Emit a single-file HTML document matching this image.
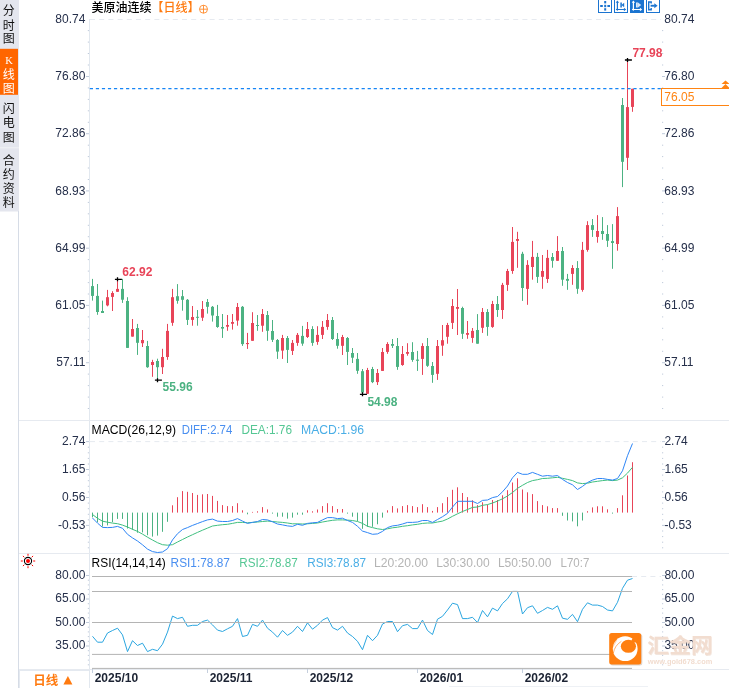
<!DOCTYPE html>
<html lang="zh-CN"><head><meta charset="utf-8"><title>美原油连续 日线</title>
<style>
html,body{margin:0;padding:0;background:#fff;}
body{width:729px;height:688px;overflow:hidden;position:relative;font-family:"Liberation Sans","Noto Sans CJK SC",sans-serif;}
svg{position:absolute;left:0;top:0;display:block}
text{font-family:"Liberation Sans","Noto Sans CJK SC",sans-serif;font-size:12px}
.ax{fill:#252f4a}
.b{font-weight:bold}
.side{font-family:"Liberation Serif","Noto Sans CJK SC",sans-serif;font-weight:400;font-size:12px;fill:#111}
</style></head><body>
<svg width="729" height="688" viewBox="0 0 729 688">
<rect x="0" y="0" width="19" height="211.5" fill="#e4e6ee"/>
<rect x="0" y="48.8" width="18" height="46" fill="#ff6600"/>
<rect x="0" y="147.3" width="19" height="1" fill="#f1f2f6"/>
<text class="side" x="8.7" y="15.2" text-anchor="middle">分</text>
<text class="side" x="8.7" y="29.6" text-anchor="middle">时</text>
<text class="side" x="8.7" y="43.2" text-anchor="middle">图</text>
<text class="side" x="8.7" y="79.0" text-anchor="middle" style="fill:#fff">线</text>
<text class="side" x="8.7" y="92.8" text-anchor="middle" style="fill:#fff">图</text>
<text class="side" x="9" y="63.9" text-anchor="middle" style="fill:#fff;font-size:10.5px">K</text>
<text class="side" x="8.7" y="113.4" text-anchor="middle">闪</text>
<text class="side" x="8.7" y="127.4" text-anchor="middle">电</text>
<text class="side" x="8.7" y="141.7" text-anchor="middle">图</text>
<text class="side" x="8.7" y="165.4" text-anchor="middle">合</text>
<text class="side" x="8.7" y="179.4" text-anchor="middle">约</text>
<text class="side" x="8.7" y="193.4" text-anchor="middle">资</text>
<text class="side" x="8.7" y="207.4" text-anchor="middle">料</text>
<rect x="18" y="211" width="1" height="477" fill="#d6dce6"/>
<rect x="89" y="19" width="1" height="669" fill="#e2e8ef"/>
<rect x="19" y="420" width="710" height="1" fill="#e6eaf0"/>
<rect x="19" y="553" width="710" height="1" fill="#e6eaf0"/>
<rect x="19" y="669" width="710" height="1" fill="#e6eaf0"/>
<rect x="19" y="670" width="70" height="1" fill="#e4e9f0"/><rect x="19" y="670" width="1" height="18" fill="#e4e9f0"/>
<rect x="449" y="686" width="199" height="1" fill="#eef1f5"/>
<path d="M90 19.5H661" stroke="#e6eaf0" stroke-width="1" stroke-dasharray="5 4.2" fill="none"/>
<path d="M90 441.6H661" stroke="#e6eaf0" stroke-width="1" stroke-dasharray="5 4.2" fill="none"/>
<path d="M632 576.5H661" stroke="#e6eaf0" stroke-width="1" stroke-dasharray="5 4.2" fill="none"/>
<rect x="87.8" y="30.1" width="1.2" height="1" fill="#c0cbdb"/>
<rect x="662" y="30.1" width="1.2" height="1" fill="#c0cbdb"/>
<rect x="87.8" y="41.6" width="1.2" height="1" fill="#c0cbdb"/>
<rect x="662" y="41.6" width="1.2" height="1" fill="#c0cbdb"/>
<rect x="87.8" y="53.0" width="1.2" height="1" fill="#c0cbdb"/>
<rect x="662" y="53.0" width="1.2" height="1" fill="#c0cbdb"/>
<rect x="87.8" y="64.5" width="1.2" height="1" fill="#c0cbdb"/>
<rect x="662" y="64.5" width="1.2" height="1" fill="#c0cbdb"/>
<rect x="86" y="76.0" width="3" height="1" fill="#c0cbdb"/>
<rect x="662" y="76.0" width="3" height="1" fill="#c0cbdb"/>
<rect x="87.8" y="87.4" width="1.2" height="1" fill="#c0cbdb"/>
<rect x="662" y="87.4" width="1.2" height="1" fill="#c0cbdb"/>
<rect x="87.8" y="98.9" width="1.2" height="1" fill="#c0cbdb"/>
<rect x="662" y="98.9" width="1.2" height="1" fill="#c0cbdb"/>
<rect x="87.8" y="110.3" width="1.2" height="1" fill="#c0cbdb"/>
<rect x="662" y="110.3" width="1.2" height="1" fill="#c0cbdb"/>
<rect x="87.8" y="121.8" width="1.2" height="1" fill="#c0cbdb"/>
<rect x="662" y="121.8" width="1.2" height="1" fill="#c0cbdb"/>
<rect x="86" y="133.2" width="3" height="1" fill="#c0cbdb"/>
<rect x="662" y="133.2" width="3" height="1" fill="#c0cbdb"/>
<rect x="87.8" y="144.7" width="1.2" height="1" fill="#c0cbdb"/>
<rect x="662" y="144.7" width="1.2" height="1" fill="#c0cbdb"/>
<rect x="87.8" y="156.1" width="1.2" height="1" fill="#c0cbdb"/>
<rect x="662" y="156.1" width="1.2" height="1" fill="#c0cbdb"/>
<rect x="87.8" y="167.5" width="1.2" height="1" fill="#c0cbdb"/>
<rect x="662" y="167.5" width="1.2" height="1" fill="#c0cbdb"/>
<rect x="87.8" y="179.0" width="1.2" height="1" fill="#c0cbdb"/>
<rect x="662" y="179.0" width="1.2" height="1" fill="#c0cbdb"/>
<rect x="86" y="190.4" width="3" height="1" fill="#c0cbdb"/>
<rect x="662" y="190.4" width="3" height="1" fill="#c0cbdb"/>
<rect x="87.8" y="201.9" width="1.2" height="1" fill="#c0cbdb"/>
<rect x="662" y="201.9" width="1.2" height="1" fill="#c0cbdb"/>
<rect x="87.8" y="213.3" width="1.2" height="1" fill="#c0cbdb"/>
<rect x="662" y="213.3" width="1.2" height="1" fill="#c0cbdb"/>
<rect x="87.8" y="224.8" width="1.2" height="1" fill="#c0cbdb"/>
<rect x="662" y="224.8" width="1.2" height="1" fill="#c0cbdb"/>
<rect x="87.8" y="236.2" width="1.2" height="1" fill="#c0cbdb"/>
<rect x="662" y="236.2" width="1.2" height="1" fill="#c0cbdb"/>
<rect x="86" y="247.7" width="3" height="1" fill="#c0cbdb"/>
<rect x="662" y="247.7" width="3" height="1" fill="#c0cbdb"/>
<rect x="87.8" y="259.1" width="1.2" height="1" fill="#c0cbdb"/>
<rect x="662" y="259.1" width="1.2" height="1" fill="#c0cbdb"/>
<rect x="87.8" y="270.6" width="1.2" height="1" fill="#c0cbdb"/>
<rect x="662" y="270.6" width="1.2" height="1" fill="#c0cbdb"/>
<rect x="87.8" y="282.1" width="1.2" height="1" fill="#c0cbdb"/>
<rect x="662" y="282.1" width="1.2" height="1" fill="#c0cbdb"/>
<rect x="87.8" y="293.5" width="1.2" height="1" fill="#c0cbdb"/>
<rect x="662" y="293.5" width="1.2" height="1" fill="#c0cbdb"/>
<rect x="86" y="304.9" width="3" height="1" fill="#c0cbdb"/>
<rect x="662" y="304.9" width="3" height="1" fill="#c0cbdb"/>
<rect x="87.8" y="316.4" width="1.2" height="1" fill="#c0cbdb"/>
<rect x="662" y="316.4" width="1.2" height="1" fill="#c0cbdb"/>
<rect x="87.8" y="327.8" width="1.2" height="1" fill="#c0cbdb"/>
<rect x="662" y="327.8" width="1.2" height="1" fill="#c0cbdb"/>
<rect x="87.8" y="339.3" width="1.2" height="1" fill="#c0cbdb"/>
<rect x="662" y="339.3" width="1.2" height="1" fill="#c0cbdb"/>
<rect x="87.8" y="350.8" width="1.2" height="1" fill="#c0cbdb"/>
<rect x="662" y="350.8" width="1.2" height="1" fill="#c0cbdb"/>
<rect x="86" y="362.2" width="3" height="1" fill="#c0cbdb"/>
<rect x="662" y="362.2" width="3" height="1" fill="#c0cbdb"/>
<rect x="87.8" y="373.6" width="1.2" height="1" fill="#c0cbdb"/>
<rect x="662" y="373.6" width="1.2" height="1" fill="#c0cbdb"/>
<rect x="87.8" y="385.1" width="1.2" height="1" fill="#c0cbdb"/>
<rect x="662" y="385.1" width="1.2" height="1" fill="#c0cbdb"/>
<rect x="87.8" y="396.6" width="1.2" height="1" fill="#c0cbdb"/>
<rect x="662" y="396.6" width="1.2" height="1" fill="#c0cbdb"/>
<rect x="87.8" y="408.0" width="1.2" height="1" fill="#c0cbdb"/>
<rect x="662" y="408.0" width="1.2" height="1" fill="#c0cbdb"/>
<text class="ax" x="85.4" y="22.9" text-anchor="end">80.74</text>
<text class="ax" x="664.3" y="22.9">80.74</text>
<text class="ax" x="85.4" y="80.2" text-anchor="end">76.80</text>
<text class="ax" x="664.3" y="80.2">76.80</text>
<text class="ax" x="85.4" y="137.4" text-anchor="end">72.86</text>
<text class="ax" x="664.3" y="137.4">72.86</text>
<text class="ax" x="85.4" y="194.6" text-anchor="end">68.93</text>
<text class="ax" x="664.3" y="194.6">68.93</text>
<text class="ax" x="85.4" y="251.9" text-anchor="end">64.99</text>
<text class="ax" x="664.3" y="251.9">64.99</text>
<text class="ax" x="85.4" y="309.1" text-anchor="end">61.05</text>
<text class="ax" x="664.3" y="309.1">61.05</text>
<text class="ax" x="85.4" y="366.4" text-anchor="end">57.11</text>
<text class="ax" x="664.3" y="366.4">57.11</text>
<rect x="86" y="441.1" width="3" height="1" fill="#c0cbdb"/>
<rect x="662" y="441.1" width="3" height="1" fill="#c0cbdb"/>
<rect x="87.8" y="446.7" width="1.2" height="1" fill="#c0cbdb"/>
<rect x="662" y="446.7" width="1.2" height="1" fill="#c0cbdb"/>
<rect x="87.8" y="452.3" width="1.2" height="1" fill="#c0cbdb"/>
<rect x="662" y="452.3" width="1.2" height="1" fill="#c0cbdb"/>
<rect x="87.8" y="457.9" width="1.2" height="1" fill="#c0cbdb"/>
<rect x="662" y="457.9" width="1.2" height="1" fill="#c0cbdb"/>
<rect x="87.8" y="463.5" width="1.2" height="1" fill="#c0cbdb"/>
<rect x="662" y="463.5" width="1.2" height="1" fill="#c0cbdb"/>
<rect x="86" y="469.0" width="3" height="1" fill="#c0cbdb"/>
<rect x="662" y="469.0" width="3" height="1" fill="#c0cbdb"/>
<rect x="87.8" y="474.6" width="1.2" height="1" fill="#c0cbdb"/>
<rect x="662" y="474.6" width="1.2" height="1" fill="#c0cbdb"/>
<rect x="87.8" y="480.2" width="1.2" height="1" fill="#c0cbdb"/>
<rect x="662" y="480.2" width="1.2" height="1" fill="#c0cbdb"/>
<rect x="87.8" y="485.8" width="1.2" height="1" fill="#c0cbdb"/>
<rect x="662" y="485.8" width="1.2" height="1" fill="#c0cbdb"/>
<rect x="87.8" y="491.4" width="1.2" height="1" fill="#c0cbdb"/>
<rect x="662" y="491.4" width="1.2" height="1" fill="#c0cbdb"/>
<rect x="86" y="497.0" width="3" height="1" fill="#c0cbdb"/>
<rect x="662" y="497.0" width="3" height="1" fill="#c0cbdb"/>
<rect x="87.8" y="502.6" width="1.2" height="1" fill="#c0cbdb"/>
<rect x="662" y="502.6" width="1.2" height="1" fill="#c0cbdb"/>
<rect x="87.8" y="508.2" width="1.2" height="1" fill="#c0cbdb"/>
<rect x="662" y="508.2" width="1.2" height="1" fill="#c0cbdb"/>
<rect x="87.8" y="513.8" width="1.2" height="1" fill="#c0cbdb"/>
<rect x="662" y="513.8" width="1.2" height="1" fill="#c0cbdb"/>
<rect x="87.8" y="519.3" width="1.2" height="1" fill="#c0cbdb"/>
<rect x="662" y="519.3" width="1.2" height="1" fill="#c0cbdb"/>
<rect x="86" y="524.9" width="3" height="1" fill="#c0cbdb"/>
<rect x="662" y="524.9" width="3" height="1" fill="#c0cbdb"/>
<rect x="87.8" y="530.5" width="1.2" height="1" fill="#c0cbdb"/>
<rect x="662" y="530.5" width="1.2" height="1" fill="#c0cbdb"/>
<rect x="87.8" y="536.1" width="1.2" height="1" fill="#c0cbdb"/>
<rect x="662" y="536.1" width="1.2" height="1" fill="#c0cbdb"/>
<rect x="87.8" y="541.7" width="1.2" height="1" fill="#c0cbdb"/>
<rect x="662" y="541.7" width="1.2" height="1" fill="#c0cbdb"/>
<rect x="87.8" y="547.3" width="1.2" height="1" fill="#c0cbdb"/>
<rect x="662" y="547.3" width="1.2" height="1" fill="#c0cbdb"/>
<text class="ax" x="85.4" y="445.1" text-anchor="end">2.74</text>
<text class="ax" x="664.4" y="445.1">2.74</text>
<text class="ax" x="85.4" y="473.0" text-anchor="end">1.65</text>
<text class="ax" x="664.4" y="473.0">1.65</text>
<text class="ax" x="85.4" y="501.0" text-anchor="end">0.56</text>
<text class="ax" x="664.4" y="501.0">0.56</text>
<text class="ax" x="85.4" y="528.9" text-anchor="end">-0.53</text>
<text class="ax" x="664.4" y="528.9">-0.53</text>
<rect x="86" y="575.0" width="3" height="1" fill="#c0cbdb"/>
<rect x="662" y="575.0" width="3" height="1" fill="#c0cbdb"/>
<rect x="87.8" y="579.7" width="1.2" height="1" fill="#c0cbdb"/>
<rect x="662" y="579.7" width="1.2" height="1" fill="#c0cbdb"/>
<rect x="87.8" y="584.4" width="1.2" height="1" fill="#c0cbdb"/>
<rect x="662" y="584.4" width="1.2" height="1" fill="#c0cbdb"/>
<rect x="87.8" y="589.1" width="1.2" height="1" fill="#c0cbdb"/>
<rect x="662" y="589.1" width="1.2" height="1" fill="#c0cbdb"/>
<rect x="87.8" y="593.8" width="1.2" height="1" fill="#c0cbdb"/>
<rect x="662" y="593.8" width="1.2" height="1" fill="#c0cbdb"/>
<rect x="86" y="598.5" width="3" height="1" fill="#c0cbdb"/>
<rect x="662" y="598.5" width="3" height="1" fill="#c0cbdb"/>
<rect x="87.8" y="603.2" width="1.2" height="1" fill="#c0cbdb"/>
<rect x="662" y="603.2" width="1.2" height="1" fill="#c0cbdb"/>
<rect x="87.8" y="607.9" width="1.2" height="1" fill="#c0cbdb"/>
<rect x="662" y="607.9" width="1.2" height="1" fill="#c0cbdb"/>
<rect x="87.8" y="612.6" width="1.2" height="1" fill="#c0cbdb"/>
<rect x="662" y="612.6" width="1.2" height="1" fill="#c0cbdb"/>
<rect x="87.8" y="617.3" width="1.2" height="1" fill="#c0cbdb"/>
<rect x="662" y="617.3" width="1.2" height="1" fill="#c0cbdb"/>
<rect x="86" y="622.0" width="3" height="1" fill="#c0cbdb"/>
<rect x="662" y="622.0" width="3" height="1" fill="#c0cbdb"/>
<rect x="87.8" y="626.7" width="1.2" height="1" fill="#c0cbdb"/>
<rect x="662" y="626.7" width="1.2" height="1" fill="#c0cbdb"/>
<rect x="87.8" y="631.4" width="1.2" height="1" fill="#c0cbdb"/>
<rect x="662" y="631.4" width="1.2" height="1" fill="#c0cbdb"/>
<rect x="87.8" y="636.1" width="1.2" height="1" fill="#c0cbdb"/>
<rect x="662" y="636.1" width="1.2" height="1" fill="#c0cbdb"/>
<rect x="87.8" y="640.8" width="1.2" height="1" fill="#c0cbdb"/>
<rect x="662" y="640.8" width="1.2" height="1" fill="#c0cbdb"/>
<rect x="86" y="645.5" width="3" height="1" fill="#c0cbdb"/>
<rect x="662" y="645.5" width="3" height="1" fill="#c0cbdb"/>
<rect x="87.8" y="650.2" width="1.2" height="1" fill="#c0cbdb"/>
<rect x="662" y="650.2" width="1.2" height="1" fill="#c0cbdb"/>
<rect x="87.8" y="654.9" width="1.2" height="1" fill="#c0cbdb"/>
<rect x="662" y="654.9" width="1.2" height="1" fill="#c0cbdb"/>
<rect x="87.8" y="659.6" width="1.2" height="1" fill="#c0cbdb"/>
<rect x="662" y="659.6" width="1.2" height="1" fill="#c0cbdb"/>
<rect x="87.8" y="664.3" width="1.2" height="1" fill="#c0cbdb"/>
<rect x="662" y="664.3" width="1.2" height="1" fill="#c0cbdb"/>
<text class="ax" x="85.4" y="578.5" text-anchor="end">80.00</text>
<text class="ax" x="664.4" y="578.5">80.00</text>
<text class="ax" x="85.4" y="602.0" text-anchor="end">65.00</text>
<text class="ax" x="664.4" y="602.0">65.00</text>
<text class="ax" x="85.4" y="625.5" text-anchor="end">50.00</text>
<text class="ax" x="664.4" y="625.5">50.00</text>
<text class="ax" x="85.4" y="649.0" text-anchor="end">35.00</text>
<text class="ax" x="664.4" y="649.0">35.00</text>
<rect x="92.0" y="278.9" width="1" height="21.7" fill="#4cb282"/>
<rect x="91.0" y="286.1" width="3" height="9.8" fill="#4cb282"/>
<rect x="97.0" y="284.0" width="1" height="30.8" fill="#4cb282"/>
<rect x="96.0" y="295.9" width="3" height="16.1" fill="#4cb282"/>
<rect x="102.0" y="300.6" width="1" height="12.4" fill="#4cb282"/>
<rect x="101.0" y="311.0" width="3" height="2.0" fill="#4cb282"/>
<rect x="107.0" y="289.9" width="1" height="16.4" fill="#e84458"/>
<rect x="106.0" y="297.2" width="3" height="8.2" fill="#e84458"/>
<rect x="112.0" y="291.2" width="1" height="19.8" fill="#e84458"/>
<rect x="111.0" y="293.0" width="3" height="3.9" fill="#e84458"/>
<rect x="117.0" y="278.9" width="1" height="12.9" fill="#e84458"/>
<rect x="116.0" y="288.9" width="3" height="2.9" fill="#e84458"/>
<rect x="122.0" y="278.9" width="1" height="24.0" fill="#4cb282"/>
<rect x="121.0" y="288.9" width="3" height="10.8" fill="#4cb282"/>
<rect x="127.0" y="297.2" width="1" height="50.7" fill="#4cb282"/>
<rect x="126.0" y="301.0" width="3" height="46.9" fill="#4cb282"/>
<rect x="132.0" y="319.0" width="1" height="17.6" fill="#e84458"/>
<rect x="131.0" y="329.0" width="3" height="7.6" fill="#e84458"/>
<rect x="137.0" y="323.9" width="1" height="31.0" fill="#4cb282"/>
<rect x="136.0" y="328.0" width="3" height="14.8" fill="#4cb282"/>
<rect x="142.0" y="330.0" width="1" height="17.0" fill="#e84458"/>
<rect x="141.0" y="340.0" width="3" height="3.2" fill="#e84458"/>
<rect x="147.0" y="340.9" width="1" height="26.9" fill="#4cb282"/>
<rect x="146.0" y="346.0" width="3" height="21.2" fill="#4cb282"/>
<rect x="152.0" y="359.8" width="1" height="17.0" fill="#e84458"/>
<rect x="151.0" y="362.0" width="3" height="3.0" fill="#e84458"/>
<rect x="157.0" y="358.7" width="1" height="21.3" fill="#4cb282"/>
<rect x="156.0" y="361.0" width="3" height="6.2" fill="#4cb282"/>
<rect x="162.0" y="348.8" width="1" height="25.2" fill="#e84458"/>
<rect x="161.0" y="357.0" width="3" height="10.2" fill="#e84458"/>
<rect x="167.0" y="323.9" width="1" height="35.9" fill="#e84458"/>
<rect x="166.0" y="330.9" width="3" height="26.1" fill="#e84458"/>
<rect x="172.0" y="288.9" width="1" height="36.9" fill="#e84458"/>
<rect x="171.0" y="297.2" width="3" height="25.6" fill="#e84458"/>
<rect x="177.0" y="284.1" width="1" height="19.6" fill="#4cb282"/>
<rect x="176.0" y="296.2" width="3" height="4.6" fill="#4cb282"/>
<rect x="182.0" y="290.0" width="1" height="20.7" fill="#4cb282"/>
<rect x="181.0" y="296.2" width="3" height="3.6" fill="#4cb282"/>
<rect x="187.0" y="299.0" width="1" height="26.0" fill="#4cb282"/>
<rect x="186.0" y="299.8" width="3" height="20.1" fill="#4cb282"/>
<rect x="192.0" y="306.0" width="1" height="19.7" fill="#e84458"/>
<rect x="191.0" y="317.0" width="3" height="2.9" fill="#e84458"/>
<rect x="197.0" y="310.0" width="1" height="15.7" fill="#4cb282"/>
<rect x="196.0" y="316.8" width="3" height="1.0" fill="#4cb282"/>
<rect x="202.0" y="301.0" width="1" height="19.9" fill="#e84458"/>
<rect x="201.0" y="309.0" width="3" height="8.7" fill="#e84458"/>
<rect x="207.0" y="299.0" width="1" height="14.6" fill="#4cb282"/>
<rect x="206.0" y="302.0" width="3" height="4.8" fill="#4cb282"/>
<rect x="212.0" y="306.0" width="1" height="15.6" fill="#4cb282"/>
<rect x="211.0" y="306.8" width="3" height="8.7" fill="#4cb282"/>
<rect x="217.0" y="304.9" width="1" height="22.9" fill="#4cb282"/>
<rect x="216.0" y="316.0" width="3" height="11.0" fill="#4cb282"/>
<rect x="222.0" y="314.0" width="1" height="23.9" fill="#4cb282"/>
<rect x="221.0" y="327.0" width="3" height="1.6" fill="#4cb282"/>
<rect x="227.0" y="315.0" width="1" height="15.8" fill="#e84458"/>
<rect x="226.0" y="325.0" width="3" height="1.7" fill="#e84458"/>
<rect x="232.0" y="314.0" width="1" height="15.6" fill="#e84458"/>
<rect x="231.0" y="322.0" width="3" height="1.8" fill="#e84458"/>
<rect x="237.0" y="303.0" width="1" height="22.7" fill="#e84458"/>
<rect x="236.0" y="307.0" width="3" height="13.6" fill="#e84458"/>
<rect x="242.0" y="306.0" width="1" height="39.9" fill="#4cb282"/>
<rect x="241.0" y="306.8" width="3" height="37.3" fill="#4cb282"/>
<rect x="247.0" y="332.9" width="1" height="16.0" fill="#e84458"/>
<rect x="246.0" y="343.0" width="3" height="1.1" fill="#e84458"/>
<rect x="252.0" y="312.2" width="1" height="28.6" fill="#e84458"/>
<rect x="251.0" y="323.0" width="3" height="17.8" fill="#e84458"/>
<rect x="257.0" y="315.0" width="1" height="15.8" fill="#4cb282"/>
<rect x="256.0" y="325.0" width="3" height="1.0" fill="#4cb282"/>
<rect x="262.0" y="309.0" width="1" height="22.8" fill="#e84458"/>
<rect x="261.0" y="314.0" width="3" height="11.7" fill="#e84458"/>
<rect x="267.0" y="311.0" width="1" height="29.8" fill="#4cb282"/>
<rect x="266.0" y="315.0" width="3" height="15.8" fill="#4cb282"/>
<rect x="272.0" y="320.0" width="1" height="22.0" fill="#4cb282"/>
<rect x="271.0" y="331.0" width="3" height="8.8" fill="#4cb282"/>
<rect x="277.0" y="339.0" width="1" height="19.9" fill="#4cb282"/>
<rect x="276.0" y="340.0" width="3" height="11.6" fill="#4cb282"/>
<rect x="282.0" y="334.9" width="1" height="24.0" fill="#e84458"/>
<rect x="281.0" y="338.0" width="3" height="12.6" fill="#e84458"/>
<rect x="287.0" y="336.0" width="1" height="27.0" fill="#4cb282"/>
<rect x="286.0" y="338.0" width="3" height="11.9" fill="#4cb282"/>
<rect x="292.0" y="340.0" width="1" height="15.0" fill="#e84458"/>
<rect x="291.0" y="342.9" width="3" height="8.0" fill="#e84458"/>
<rect x="297.0" y="333.0" width="1" height="12.8" fill="#e84458"/>
<rect x="296.0" y="334.9" width="3" height="8.0" fill="#e84458"/>
<rect x="302.0" y="325.9" width="1" height="19.9" fill="#4cb282"/>
<rect x="301.0" y="335.9" width="3" height="7.7" fill="#4cb282"/>
<rect x="307.0" y="322.0" width="1" height="16.0" fill="#e84458"/>
<rect x="306.0" y="329.0" width="3" height="8.0" fill="#e84458"/>
<rect x="312.0" y="326.2" width="1" height="19.6" fill="#4cb282"/>
<rect x="311.0" y="329.0" width="3" height="13.9" fill="#4cb282"/>
<rect x="317.0" y="326.2" width="1" height="18.6" fill="#e84458"/>
<rect x="316.0" y="334.9" width="3" height="7.0" fill="#e84458"/>
<rect x="322.0" y="321.0" width="1" height="18.0" fill="#e84458"/>
<rect x="321.0" y="326.9" width="3" height="8.0" fill="#e84458"/>
<rect x="327.0" y="314.0" width="1" height="15.8" fill="#e84458"/>
<rect x="326.0" y="320.0" width="3" height="6.9" fill="#e84458"/>
<rect x="332.0" y="317.0" width="1" height="23.0" fill="#4cb282"/>
<rect x="331.0" y="320.0" width="3" height="19.0" fill="#4cb282"/>
<rect x="337.0" y="333.0" width="1" height="15.7" fill="#4cb282"/>
<rect x="336.0" y="339.0" width="3" height="6.8" fill="#4cb282"/>
<rect x="342.0" y="334.9" width="1" height="20.1" fill="#e84458"/>
<rect x="341.0" y="337.0" width="3" height="8.8" fill="#e84458"/>
<rect x="347.0" y="337.0" width="1" height="28.0" fill="#4cb282"/>
<rect x="346.0" y="338.0" width="3" height="13.9" fill="#4cb282"/>
<rect x="352.0" y="348.0" width="1" height="15.0" fill="#4cb282"/>
<rect x="351.0" y="353.0" width="3" height="4.7" fill="#4cb282"/>
<rect x="357.0" y="353.0" width="1" height="20.8" fill="#4cb282"/>
<rect x="356.0" y="358.9" width="3" height="11.9" fill="#4cb282"/>
<rect x="362.0" y="369.0" width="1" height="25.0" fill="#4cb282"/>
<rect x="361.0" y="371.2" width="3" height="21.3" fill="#4cb282"/>
<rect x="367.0" y="367.9" width="1" height="25.9" fill="#e84458"/>
<rect x="366.0" y="370.0" width="3" height="23.8" fill="#e84458"/>
<rect x="372.0" y="366.9" width="1" height="16.2" fill="#4cb282"/>
<rect x="371.0" y="369.0" width="3" height="13.1" fill="#4cb282"/>
<rect x="377.0" y="369.0" width="1" height="16.0" fill="#e84458"/>
<rect x="376.0" y="373.0" width="3" height="9.1" fill="#e84458"/>
<rect x="382.0" y="348.0" width="1" height="22.9" fill="#e84458"/>
<rect x="381.0" y="352.0" width="3" height="18.9" fill="#e84458"/>
<rect x="387.0" y="342.2" width="1" height="11.6" fill="#e84458"/>
<rect x="386.0" y="344.0" width="3" height="7.9" fill="#e84458"/>
<rect x="392.0" y="339.0" width="1" height="9.0" fill="#4cb282"/>
<rect x="391.0" y="344.0" width="3" height="1.8" fill="#4cb282"/>
<rect x="397.0" y="338.0" width="1" height="31.8" fill="#4cb282"/>
<rect x="396.0" y="346.0" width="3" height="20.9" fill="#4cb282"/>
<rect x="402.0" y="346.0" width="1" height="19.8" fill="#e84458"/>
<rect x="401.0" y="354.0" width="3" height="11.0" fill="#e84458"/>
<rect x="407.0" y="343.2" width="1" height="12.5" fill="#e84458"/>
<rect x="406.0" y="352.0" width="3" height="1.8" fill="#e84458"/>
<rect x="412.0" y="342.2" width="1" height="19.6" fill="#4cb282"/>
<rect x="411.0" y="352.0" width="3" height="7.9" fill="#4cb282"/>
<rect x="417.0" y="350.9" width="1" height="20.0" fill="#4cb282"/>
<rect x="416.0" y="359.6" width="3" height="1.2" fill="#4cb282"/>
<rect x="422.0" y="343.2" width="1" height="31.7" fill="#e84458"/>
<rect x="421.0" y="346.0" width="3" height="12.9" fill="#e84458"/>
<rect x="427.0" y="338.0" width="1" height="28.9" fill="#4cb282"/>
<rect x="426.0" y="346.0" width="3" height="19.8" fill="#4cb282"/>
<rect x="432.0" y="362.0" width="1" height="20.8" fill="#4cb282"/>
<rect x="431.0" y="366.0" width="3" height="8.9" fill="#4cb282"/>
<rect x="437.0" y="340.0" width="1" height="39.9" fill="#e84458"/>
<rect x="436.0" y="346.0" width="3" height="27.8" fill="#e84458"/>
<rect x="442.0" y="325.0" width="1" height="30.8" fill="#e84458"/>
<rect x="441.0" y="340.2" width="3" height="5.4" fill="#e84458"/>
<rect x="447.0" y="322.9" width="1" height="20.8" fill="#e84458"/>
<rect x="446.0" y="325.0" width="3" height="11.8" fill="#e84458"/>
<rect x="452.0" y="299.0" width="1" height="30.0" fill="#e84458"/>
<rect x="451.0" y="306.0" width="3" height="16.9" fill="#e84458"/>
<rect x="457.0" y="289.0" width="1" height="46.0" fill="#e84458"/>
<rect x="456.0" y="307.0" width="3" height="1.8" fill="#e84458"/>
<rect x="462.0" y="306.7" width="1" height="32.2" fill="#4cb282"/>
<rect x="461.0" y="308.0" width="3" height="25.8" fill="#4cb282"/>
<rect x="467.0" y="321.0" width="1" height="17.8" fill="#e84458"/>
<rect x="466.0" y="333.0" width="3" height="1.8" fill="#e84458"/>
<rect x="472.0" y="328.0" width="1" height="14.8" fill="#e84458"/>
<rect x="471.0" y="330.9" width="3" height="7.0" fill="#e84458"/>
<rect x="477.0" y="314.1" width="1" height="29.6" fill="#4cb282"/>
<rect x="476.0" y="330.0" width="3" height="13.7" fill="#4cb282"/>
<rect x="482.0" y="308.0" width="1" height="24.9" fill="#e84458"/>
<rect x="481.0" y="312.0" width="3" height="15.8" fill="#e84458"/>
<rect x="487.0" y="309.1" width="1" height="26.7" fill="#4cb282"/>
<rect x="486.0" y="312.0" width="3" height="14.9" fill="#4cb282"/>
<rect x="492.0" y="300.9" width="1" height="26.9" fill="#e84458"/>
<rect x="491.0" y="304.0" width="3" height="22.9" fill="#e84458"/>
<rect x="497.0" y="296.0" width="1" height="20.9" fill="#4cb282"/>
<rect x="496.0" y="304.0" width="3" height="6.0" fill="#4cb282"/>
<rect x="502.0" y="282.9" width="1" height="36.0" fill="#e84458"/>
<rect x="501.0" y="284.9" width="3" height="25.1" fill="#e84458"/>
<rect x="507.0" y="268.9" width="1" height="22.0" fill="#e84458"/>
<rect x="506.0" y="271.0" width="3" height="13.9" fill="#e84458"/>
<rect x="512.0" y="227.0" width="1" height="46.8" fill="#e84458"/>
<rect x="511.0" y="241.9" width="3" height="29.1" fill="#e84458"/>
<rect x="517.0" y="231.8" width="1" height="36.0" fill="#e84458"/>
<rect x="516.0" y="239.0" width="3" height="1.9" fill="#e84458"/>
<rect x="522.0" y="251.8" width="1" height="49.1" fill="#4cb282"/>
<rect x="521.0" y="253.8" width="3" height="34.2" fill="#4cb282"/>
<rect x="527.0" y="260.2" width="1" height="44.6" fill="#e84458"/>
<rect x="526.0" y="264.9" width="3" height="24.0" fill="#e84458"/>
<rect x="532.0" y="240.9" width="1" height="38.8" fill="#e84458"/>
<rect x="531.0" y="256.9" width="3" height="10.1" fill="#e84458"/>
<rect x="537.0" y="252.9" width="1" height="30.0" fill="#4cb282"/>
<rect x="536.0" y="256.9" width="3" height="20.0" fill="#4cb282"/>
<rect x="542.0" y="255.0" width="1" height="33.8" fill="#e84458"/>
<rect x="541.0" y="271.0" width="3" height="5.8" fill="#e84458"/>
<rect x="547.0" y="249.9" width="1" height="33.0" fill="#e84458"/>
<rect x="546.0" y="257.9" width="3" height="21.1" fill="#e84458"/>
<rect x="552.0" y="253.0" width="1" height="14.7" fill="#4cb282"/>
<rect x="551.0" y="257.0" width="3" height="3.8" fill="#4cb282"/>
<rect x="557.0" y="236.1" width="1" height="24.7" fill="#e84458"/>
<rect x="556.0" y="251.0" width="3" height="9.8" fill="#e84458"/>
<rect x="562.0" y="247.0" width="1" height="38.8" fill="#4cb282"/>
<rect x="561.0" y="251.0" width="3" height="28.7" fill="#4cb282"/>
<rect x="567.0" y="273.9" width="1" height="15.9" fill="#4cb282"/>
<rect x="566.0" y="278.9" width="3" height="1.9" fill="#4cb282"/>
<rect x="572.0" y="265.1" width="1" height="19.7" fill="#e84458"/>
<rect x="571.0" y="268.0" width="3" height="5.9" fill="#e84458"/>
<rect x="577.0" y="261.1" width="1" height="32.7" fill="#4cb282"/>
<rect x="576.0" y="268.0" width="3" height="20.8" fill="#4cb282"/>
<rect x="582.0" y="241.9" width="1" height="49.8" fill="#e84458"/>
<rect x="581.0" y="249.9" width="3" height="40.0" fill="#e84458"/>
<rect x="587.0" y="221.2" width="1" height="30.5" fill="#e84458"/>
<rect x="586.0" y="225.1" width="3" height="24.8" fill="#e84458"/>
<rect x="592.0" y="219.0" width="1" height="17.9" fill="#4cb282"/>
<rect x="591.0" y="225.1" width="3" height="4.8" fill="#4cb282"/>
<rect x="597.0" y="215.1" width="1" height="27.6" fill="#e84458"/>
<rect x="596.0" y="231.0" width="3" height="5.9" fill="#e84458"/>
<rect x="602.0" y="217.1" width="1" height="22.7" fill="#4cb282"/>
<rect x="601.0" y="231.0" width="3" height="3.0" fill="#4cb282"/>
<rect x="607.0" y="225.1" width="1" height="21.8" fill="#4cb282"/>
<rect x="606.0" y="234.0" width="3" height="6.8" fill="#4cb282"/>
<rect x="612.0" y="224.1" width="1" height="44.7" fill="#4cb282"/>
<rect x="611.0" y="241.1" width="3" height="1.9" fill="#4cb282"/>
<rect x="617.0" y="207.1" width="1" height="43.6" fill="#e84458"/>
<rect x="616.0" y="216.1" width="3" height="27.9" fill="#e84458"/>
<rect x="622.0" y="98.0" width="1" height="89.1" fill="#4cb282"/>
<rect x="621.0" y="105.0" width="3" height="56.8" fill="#4cb282"/>
<rect x="627.0" y="60.2" width="1" height="109.8" fill="#e84458"/>
<rect x="626.0" y="107.1" width="3" height="50.7" fill="#e84458"/>
<rect x="632.0" y="88.8" width="1" height="23.0" fill="#e84458"/>
<rect x="631.0" y="88.8" width="3" height="18.1" fill="#e84458"/>
<path d="M89.8 88.55H661" stroke="#1685f5" stroke-width="1.25" stroke-dasharray="3.2 2.84" fill="none"/>
<rect x="661.5" y="88.5" width="70" height="17" fill="#fff" stroke="#ff8412" stroke-width="1"/>
<text x="664.3" y="101" style="fill:#ff8412">76.05</text>
<path d="M725.5 80.5L721.5 84H729.5ZM725.5 84L721.5 88H729.5Z" fill="#ff8412"/>
<path d="M624.9 60.0h7M627.5 58.0v4" stroke="#000" stroke-width="1.3" fill="none"/>
<path d="M114.9 279.3h7M117.5 277.3v4" stroke="#000" stroke-width="1.3" fill="none"/>
<path d="M154.9 380.2h7M157.5 378.2v4" stroke="#000" stroke-width="1.3" fill="none"/>
<path d="M359.9 394.3h7M362.5 392.3v4" stroke="#000" stroke-width="1.3" fill="none"/>
<text class="b" x="632.4" y="57.1" style="fill:#e84458">77.98</text>
<text class="b" x="122.3" y="276" style="fill:#e84458">62.92</text>
<text class="b" x="162.6" y="390.7" style="fill:#4cb282">55.96</text>
<text class="b" x="367.4" y="406" style="fill:#4cb282">54.98</text>
<rect x="92.0" y="512.6" width="1" height="4.8" fill="#4cb282"/>
<rect x="97.0" y="512.6" width="1" height="9.6" fill="#4cb282"/>
<rect x="102.0" y="512.6" width="1" height="14.0" fill="#4cb282"/>
<rect x="107.0" y="512.6" width="1" height="12.8" fill="#4cb282"/>
<rect x="112.0" y="512.6" width="1" height="9.6" fill="#4cb282"/>
<rect x="117.0" y="512.6" width="1" height="6.3" fill="#4cb282"/>
<rect x="122.0" y="512.6" width="1" height="6.3" fill="#4cb282"/>
<rect x="127.0" y="512.6" width="1" height="15.9" fill="#4cb282"/>
<rect x="132.0" y="512.6" width="1" height="17.3" fill="#4cb282"/>
<rect x="137.0" y="512.6" width="1" height="20.1" fill="#4cb282"/>
<rect x="142.0" y="512.6" width="1" height="19.8" fill="#4cb282"/>
<rect x="147.0" y="512.6" width="1" height="22.6" fill="#4cb282"/>
<rect x="152.0" y="512.6" width="1" height="24.0" fill="#4cb282"/>
<rect x="157.0" y="512.6" width="1" height="23.0" fill="#4cb282"/>
<rect x="162.0" y="512.6" width="1" height="19.2" fill="#4cb282"/>
<rect x="167.0" y="512.6" width="1" height="9.2" fill="#4cb282"/>
<rect x="172.0" y="505.3" width="1" height="7.3" fill="#e84458"/>
<rect x="177.0" y="497.2" width="1" height="15.4" fill="#e84458"/>
<rect x="182.0" y="491.1" width="1" height="21.5" fill="#e84458"/>
<rect x="187.0" y="491.8" width="1" height="20.8" fill="#e84458"/>
<rect x="192.0" y="493.0" width="1" height="19.6" fill="#e84458"/>
<rect x="197.0" y="494.9" width="1" height="17.7" fill="#e84458"/>
<rect x="202.0" y="494.3" width="1" height="18.3" fill="#e84458"/>
<rect x="207.0" y="494.0" width="1" height="18.6" fill="#e84458"/>
<rect x="212.0" y="495.9" width="1" height="16.7" fill="#e84458"/>
<rect x="217.0" y="500.9" width="1" height="11.7" fill="#e84458"/>
<rect x="222.0" y="505.1" width="1" height="7.5" fill="#e84458"/>
<rect x="227.0" y="506.1" width="1" height="6.5" fill="#e84458"/>
<rect x="232.0" y="506.1" width="1" height="6.5" fill="#e84458"/>
<rect x="237.0" y="503.2" width="1" height="9.4" fill="#e84458"/>
<rect x="242.0" y="510.3" width="1" height="2.3" fill="#e84458"/>
<rect x="247.0" y="512.6" width="1" height="1.7" fill="#4cb282"/>
<rect x="252.0" y="511.9" width="1" height="0.7" fill="#e84458"/>
<rect x="257.0" y="511.3" width="1" height="1.3" fill="#e84458"/>
<rect x="262.0" y="507.1" width="1" height="5.5" fill="#e84458"/>
<rect x="267.0" y="509.4" width="1" height="3.2" fill="#e84458"/>
<rect x="272.0" y="512.6" width="1" height="1.0" fill="#4cb282"/>
<rect x="277.0" y="512.6" width="1" height="4.1" fill="#4cb282"/>
<rect x="282.0" y="512.6" width="1" height="4.1" fill="#4cb282"/>
<rect x="287.0" y="512.6" width="1" height="6.0" fill="#4cb282"/>
<rect x="292.0" y="512.6" width="1" height="5.0" fill="#4cb282"/>
<rect x="297.0" y="512.6" width="1" height="2.1" fill="#4cb282"/>
<rect x="302.0" y="512.6" width="1" height="2.1" fill="#4cb282"/>
<rect x="307.0" y="510.3" width="1" height="2.3" fill="#e84458"/>
<rect x="312.0" y="511.3" width="1" height="1.3" fill="#e84458"/>
<rect x="317.0" y="509.5" width="1" height="3.1" fill="#e84458"/>
<rect x="322.0" y="506.1" width="1" height="6.5" fill="#e84458"/>
<rect x="327.0" y="503.2" width="1" height="9.4" fill="#e84458"/>
<rect x="332.0" y="506.1" width="1" height="6.5" fill="#e84458"/>
<rect x="337.0" y="509.0" width="1" height="3.6" fill="#e84458"/>
<rect x="342.0" y="509.0" width="1" height="3.6" fill="#e84458"/>
<rect x="347.0" y="512.6" width="1" height="1.0" fill="#4cb282"/>
<rect x="352.0" y="512.6" width="1" height="4.1" fill="#4cb282"/>
<rect x="357.0" y="512.6" width="1" height="8.5" fill="#4cb282"/>
<rect x="362.0" y="512.6" width="1" height="16.2" fill="#4cb282"/>
<rect x="367.0" y="512.6" width="1" height="14.2" fill="#4cb282"/>
<rect x="372.0" y="512.6" width="1" height="14.2" fill="#4cb282"/>
<rect x="377.0" y="512.6" width="1" height="11.7" fill="#4cb282"/>
<rect x="382.0" y="512.6" width="1" height="5.0" fill="#4cb282"/>
<rect x="387.0" y="510.3" width="1" height="2.3" fill="#e84458"/>
<rect x="392.0" y="506.1" width="1" height="6.5" fill="#e84458"/>
<rect x="397.0" y="508.4" width="1" height="4.2" fill="#e84458"/>
<rect x="402.0" y="506.1" width="1" height="6.5" fill="#e84458"/>
<rect x="407.0" y="505.1" width="1" height="7.5" fill="#e84458"/>
<rect x="412.0" y="506.1" width="1" height="6.5" fill="#e84458"/>
<rect x="417.0" y="507.1" width="1" height="5.5" fill="#e84458"/>
<rect x="422.0" y="504.2" width="1" height="8.4" fill="#e84458"/>
<rect x="427.0" y="507.1" width="1" height="5.5" fill="#e84458"/>
<rect x="432.0" y="510.9" width="1" height="1.7" fill="#e84458"/>
<rect x="437.0" y="507.1" width="1" height="5.5" fill="#e84458"/>
<rect x="442.0" y="503.2" width="1" height="9.4" fill="#e84458"/>
<rect x="447.0" y="497.1" width="1" height="15.5" fill="#e84458"/>
<rect x="452.0" y="489.8" width="1" height="22.8" fill="#e84458"/>
<rect x="457.0" y="487.3" width="1" height="25.3" fill="#e84458"/>
<rect x="462.0" y="493.0" width="1" height="19.6" fill="#e84458"/>
<rect x="467.0" y="497.1" width="1" height="15.5" fill="#e84458"/>
<rect x="472.0" y="500.3" width="1" height="12.3" fill="#e84458"/>
<rect x="477.0" y="505.1" width="1" height="7.5" fill="#e84458"/>
<rect x="482.0" y="502.3" width="1" height="10.3" fill="#e84458"/>
<rect x="487.0" y="504.6" width="1" height="8.0" fill="#e84458"/>
<rect x="492.0" y="500.0" width="1" height="12.6" fill="#e84458"/>
<rect x="497.0" y="500.0" width="1" height="12.6" fill="#e84458"/>
<rect x="502.0" y="495.3" width="1" height="17.3" fill="#e84458"/>
<rect x="507.0" y="490.2" width="1" height="22.4" fill="#e84458"/>
<rect x="512.0" y="482.5" width="1" height="30.1" fill="#e84458"/>
<rect x="517.0" y="478.3" width="1" height="34.3" fill="#e84458"/>
<rect x="522.0" y="489.5" width="1" height="23.1" fill="#e84458"/>
<rect x="527.0" y="492.3" width="1" height="20.3" fill="#e84458"/>
<rect x="532.0" y="494.1" width="1" height="18.5" fill="#e84458"/>
<rect x="537.0" y="501.1" width="1" height="11.5" fill="#e84458"/>
<rect x="542.0" y="505.1" width="1" height="7.5" fill="#e84458"/>
<rect x="547.0" y="506.3" width="1" height="6.3" fill="#e84458"/>
<rect x="552.0" y="508.1" width="1" height="4.5" fill="#e84458"/>
<rect x="557.0" y="508.1" width="1" height="4.5" fill="#e84458"/>
<rect x="562.0" y="512.6" width="1" height="3.2" fill="#4cb282"/>
<rect x="567.0" y="512.6" width="1" height="7.9" fill="#4cb282"/>
<rect x="572.0" y="512.6" width="1" height="8.8" fill="#4cb282"/>
<rect x="577.0" y="512.6" width="1" height="13.7" fill="#4cb282"/>
<rect x="582.0" y="512.6" width="1" height="7.9" fill="#4cb282"/>
<rect x="587.0" y="511.2" width="1" height="1.4" fill="#e84458"/>
<rect x="592.0" y="507.4" width="1" height="5.2" fill="#e84458"/>
<rect x="597.0" y="506.3" width="1" height="6.3" fill="#e84458"/>
<rect x="602.0" y="506.3" width="1" height="6.3" fill="#e84458"/>
<rect x="607.0" y="509.3" width="1" height="3.3" fill="#e84458"/>
<rect x="612.0" y="512.6" width="1" height="1.0" fill="#4cb282"/>
<rect x="617.0" y="508.1" width="1" height="4.5" fill="#e84458"/>
<rect x="622.0" y="495.3" width="1" height="17.3" fill="#e84458"/>
<rect x="627.0" y="475.5" width="1" height="37.1" fill="#e84458"/>
<rect x="632.0" y="462.2" width="1" height="50.4" fill="#e84458"/>
<polyline points="92.5,514.5 97.5,518.3 102.5,521.2 107.5,522.2 112.5,523.1 117.5,523.7 122.5,525.1 127.5,527.0 132.5,529.3 137.5,531.4 142.5,534.1 147.5,537.2 152.5,540.0 157.5,542.7 162.5,544.7 167.5,545.2 172.5,544.7 177.5,542.0 182.5,539.5 187.5,537.0 192.5,534.7 197.5,532.4 202.5,530.2 207.5,528.1 212.5,526.0 217.5,525.3 222.5,524.7 227.5,524.3 232.5,523.4 237.5,522.4 242.5,522.4 247.5,522.8 252.5,522.4 257.5,522.0 262.5,521.5 267.5,521.1 272.5,521.5 277.5,522.0 282.5,522.4 287.5,523.0 292.5,523.8 297.5,523.8 302.5,524.0 307.5,523.8 312.5,523.4 317.5,523.0 322.5,522.0 327.5,521.1 332.5,520.3 337.5,519.9 342.5,519.9 347.5,520.1 352.5,520.5 357.5,521.5 362.5,523.4 367.5,526.3 372.5,527.6 377.5,528.8 382.5,529.5 387.5,528.8 392.5,527.8 397.5,527.2 402.5,526.3 407.5,525.7 412.5,524.9 417.5,524.3 422.5,523.4 427.5,523.0 432.5,523.0 437.5,522.0 442.5,521.1 447.5,519.0 452.5,516.3 457.5,513.8 462.5,511.5 467.5,509.5 472.5,507.4 477.5,507.0 482.5,505.3 487.5,504.6 492.5,503.0 497.5,501.1 502.5,498.8 507.5,496.0 512.5,492.5 517.5,488.3 522.5,485.3 527.5,482.5 532.5,480.6 537.5,479.7 542.5,478.5 547.5,478.3 552.5,477.8 557.5,477.3 562.5,478.3 567.5,479.4 572.5,480.6 577.5,482.9 582.5,483.6 587.5,483.2 592.5,482.0 597.5,481.3 602.5,480.6 607.5,480.1 612.5,480.6 617.5,480.1 622.5,477.8 627.5,473.1 632.5,467.3" fill="none" stroke="#3fbf7f" stroke-width="1.0" stroke-linejoin="round"/>
<polyline points="92.5,518.0 97.5,523.1 102.5,527.4 107.5,527.6 112.5,527.4 117.5,526.4 122.5,528.3 127.5,534.3 132.5,537.9 137.5,541.0 142.5,544.8 147.5,549.1 152.5,551.6 157.5,552.5 162.5,552.0 167.5,548.7 172.5,539.9 177.5,533.7 182.5,529.5 187.5,527.6 192.5,525.4 197.5,523.5 202.5,521.6 207.5,519.9 212.5,519.1 217.5,521.1 222.5,521.5 227.5,521.5 232.5,520.5 237.5,518.6 242.5,521.1 247.5,523.4 252.5,522.4 257.5,521.5 262.5,519.5 267.5,519.9 272.5,521.8 277.5,524.0 282.5,524.9 287.5,525.9 292.5,526.4 297.5,524.3 302.5,525.3 307.5,523.4 312.5,522.8 317.5,522.4 322.5,519.9 327.5,517.6 332.5,517.6 337.5,518.6 342.5,518.2 347.5,520.5 352.5,522.4 357.5,526.3 362.5,531.1 367.5,532.6 372.5,534.3 377.5,533.9 382.5,531.4 387.5,527.6 392.5,525.9 397.5,525.3 402.5,524.0 407.5,522.4 412.5,522.4 417.5,522.0 422.5,520.5 427.5,520.5 432.5,522.4 437.5,519.5 442.5,516.7 447.5,513.4 452.5,507.1 457.5,501.3 462.5,501.3 467.5,501.3 472.5,501.3 477.5,503.5 482.5,500.4 487.5,500.0 492.5,497.6 497.5,496.5 502.5,491.8 507.5,486.0 512.5,477.8 517.5,472.4 522.5,474.3 527.5,474.3 532.5,472.4 537.5,474.3 542.5,476.2 547.5,475.5 552.5,476.2 557.5,475.5 562.5,479.4 567.5,482.5 572.5,484.8 577.5,489.5 582.5,486.4 587.5,482.5 592.5,480.1 597.5,478.5 602.5,478.5 607.5,479.4 612.5,480.1 617.5,478.5 622.5,470.8 627.5,455.7 632.5,443.5" fill="none" stroke="#2f86f6" stroke-width="1.0" stroke-linejoin="round"/>
<polyline points="92.5,636.3 97.5,642.2 102.5,642.2 107.5,633.0 112.5,630.5 117.5,628.2 122.5,634.9 127.5,651.6 132.5,640.7 137.5,645.5 142.5,643.2 147.5,651.6 152.5,649.3 157.5,650.7 162.5,644.2 167.5,632.1 172.5,616.1 177.5,618.6 182.5,617.3 187.5,626.3 192.5,625.3 197.5,625.3 202.5,621.5 207.5,620.1 212.5,624.9 217.5,630.1 222.5,631.5 227.5,628.8 232.5,626.3 237.5,618.6 242.5,636.5 247.5,635.3 252.5,624.4 257.5,626.3 262.5,620.1 267.5,628.2 272.5,632.1 277.5,637.2 282.5,630.5 287.5,635.3 292.5,632.1 297.5,626.3 302.5,631.5 307.5,622.8 312.5,629.2 317.5,625.3 322.5,620.1 327.5,617.6 332.5,627.6 337.5,630.1 342.5,626.3 347.5,633.0 352.5,636.5 357.5,641.3 362.5,649.7 367.5,635.3 372.5,640.7 377.5,635.3 382.5,624.0 387.5,621.5 392.5,621.5 397.5,631.7 402.5,625.7 407.5,624.4 412.5,628.6 417.5,628.6 422.5,620.1 427.5,630.5 432.5,634.5 437.5,619.2 442.5,616.3 447.5,610.0 452.5,603.2 457.5,604.6 462.5,618.6 467.5,618.6 472.5,617.3 477.5,622.6 482.5,610.5 487.5,616.8 492.5,608.1 497.5,610.9 502.5,603.5 507.5,598.8 512.5,591.4 517.5,591.4 522.5,614.0 527.5,607.7 532.5,605.8 537.5,613.3 542.5,610.5 547.5,607.4 552.5,609.3 557.5,605.8 562.5,618.2 567.5,619.3 572.5,614.4 577.5,621.7 582.5,609.3 587.5,602.8 592.5,605.1 597.5,605.1 602.5,606.5 607.5,610.0 612.5,610.9 617.5,602.3 622.5,588.3 627.5,580.2 632.5,578.5" fill="none" stroke="#2ba6e0" stroke-width="1.0" stroke-linejoin="round"/>
<rect x="92" y="576.0" width="540" height="1" fill="#b4b4b4"/>
<rect x="92" y="591.0" width="540" height="1" fill="#b4b4b4"/>
<rect x="92" y="622.0" width="540" height="1" fill="#b4b4b4"/>
<rect x="92" y="653.9" width="540" height="1" fill="#b4b4b4"/>
<rect x="92" y="667.9" width="540" height="1" fill="#b4b4b4"/>
<text x="91.4" y="12" style="fill:#000;font-weight:500">美原油连续<tspan style="fill:#ff7a0f">【日线】</tspan></text>
<g stroke="#ff8a2a" stroke-width="0.9" fill="none"><circle cx="203.5" cy="9.2" r="4"/><path d="M199.5 9.2h8M203.5 5.2v8"/></g>
<text x="91.6" y="433.6" textLength="84.4" lengthAdjust="spacingAndGlyphs" style="fill:#000">MACD(26,12,9)</text>
<text x="181.7" y="433.6" textLength="50.6" lengthAdjust="spacingAndGlyphs" style="fill:#4a8ff0">DIFF:2.74</text>
<text x="241.4" y="433.6" textLength="50.6" lengthAdjust="spacingAndGlyphs" style="fill:#55c794">DEA:1.76</text>
<text x="301.0" y="433.6" textLength="63.0" lengthAdjust="spacingAndGlyphs" style="fill:#4aaee6">MACD:1.96</text>
<text x="91.6" y="567.4" textLength="74.2" lengthAdjust="spacingAndGlyphs" style="fill:#000">RSI(14,14,14)</text>
<text x="170.6" y="567.4" textLength="59.3" lengthAdjust="spacingAndGlyphs" style="fill:#4a8ff0">RSI1:78.87</text>
<text x="239.3" y="567.4" textLength="58.5" lengthAdjust="spacingAndGlyphs" style="fill:#55c794">RSI2:78.87</text>
<text x="307.2" y="567.4" textLength="58.8" lengthAdjust="spacingAndGlyphs" style="fill:#4aaee6">RSI3:78.87</text>
<text x="374.0" y="567.4" textLength="54.0" lengthAdjust="spacingAndGlyphs" style="fill:#b4b4b4">L20:20.00</text>
<text x="436.2" y="567.4" textLength="53.5" lengthAdjust="spacingAndGlyphs" style="fill:#b4b4b4">L30:30.00</text>
<text x="497.9" y="567.4" textLength="53.5" lengthAdjust="spacingAndGlyphs" style="fill:#b4b4b4">L50:50.00</text>
<text x="560.5" y="567.4" textLength="28.8" lengthAdjust="spacingAndGlyphs" style="fill:#b4b4b4">L70:7</text>
<g transform="translate(28 561)"><g stroke="#f00" stroke-width="1">
<line x1="5.20" y1="0.00" x2="7.20" y2="0.00"/>
<line x1="3.68" y1="3.68" x2="5.09" y2="5.09"/>
<line x1="0.00" y1="5.20" x2="0.00" y2="7.20"/>
<line x1="-3.68" y1="3.68" x2="-5.09" y2="5.09"/>
<line x1="-5.20" y1="0.00" x2="-7.20" y2="0.00"/>
<line x1="-3.68" y1="-3.68" x2="-5.09" y2="-5.09"/>
<line x1="-0.00" y1="-5.20" x2="-0.00" y2="-7.20"/>
<line x1="3.68" y1="-3.68" x2="5.09" y2="-5.09"/>
</g><circle r="3.6" fill="#fff" stroke="#000" stroke-width="1.1"/><circle r="2" fill="#f00"/></g>
<text class="b" x="33.2" y="684.8" style="fill:#ff7a0f;font-size:12.5px">日线</text>
<path d="M63.4 684.4L67.9 675.9L72.4 684.4Z" fill="#ff7a0f"/>
<rect x="92.0" y="669" width="1" height="4" fill="#c5cfdd"/>
<text class="b" x="94.7" y="682.2" style="fill:#1c2333">2025/10</text>
<rect x="207.0" y="669" width="1" height="4" fill="#c5cfdd"/>
<text class="b" x="209.7" y="682.2" style="fill:#1c2333">2025/11</text>
<rect x="307.0" y="669" width="1" height="4" fill="#c5cfdd"/>
<text class="b" x="309.7" y="682.2" style="fill:#1c2333">2025/12</text>
<rect x="417.0" y="669" width="1" height="4" fill="#c5cfdd"/>
<text class="b" x="419.7" y="682.2" style="fill:#1c2333">2026/01</text>
<rect x="522.0" y="669" width="1" height="4" fill="#c5cfdd"/>
<text class="b" x="524.7" y="682.2" style="fill:#1c2333">2026/02</text>
<rect x="598.5" y="-1.5" width="13" height="14" fill="#fff" stroke="#1b74d0" stroke-width="1"/>
<rect x="614.5" y="-1.5" width="13" height="14" fill="#fff" stroke="#1b74d0" stroke-width="1"/>
<rect x="630.5" y="-1.5" width="13" height="14" fill="#1b74d0" stroke="#1b74d0" stroke-width="1"/>
<rect x="646.5" y="-1.5" width="13" height="14" fill="#fff" stroke="#1b74d0" stroke-width="1"/>
<g fill="#1b74d0"><rect x="604.2" y="4.8" width="2" height="2.4"/><rect x="600.2" y="5" width="2.6" height="2"/><rect x="607.4" y="5" width="2.6" height="2"/><rect x="604.2" y="1" width="2" height="2.4"/><rect x="604.2" y="8.2" width="2" height="2.4"/></g>
<g stroke="#1b74d0" stroke-width="1.2" fill="#1b74d0"><path d="M617.4 1.5V9.5H625.0" fill="none"/><path d="M617.4 0.4l-1.7 2.3h3.4zM617.4 10.8l-1.5 -1.9h3zM626.2 9.5l-2.3 -1.7v3.4zM615.8 9.5l1.9 -1.5v3z" stroke="none"/></g>
<path d="M621.1 2.6v4.8" stroke="#1b74d0" stroke-width="1.5" fill="none"/><path d="M624.2 2.8v4.4l-2.7 -2.2z" fill="#1b74d0"/>
<g stroke="#fff" stroke-width="1.2" fill="#fff"><path d="M633.4 1.5V9.5H641.0" fill="none"/><path d="M633.4 0.4l-1.7 2.3h3.4zM633.4 10.8l-1.5 -1.9h3zM642.2 9.5l-2.3 -1.7v3.4zM631.8 9.5l1.9 -1.5v3z" stroke="none"/></g>
<path d="M636.9 2.6v4.8" stroke="#fff" stroke-width="1.5"/><path d="M637.7 2.2v5.6l3.5 -2.8z" fill="#d6e6f8"/>
<path d="M651.2 3.6V2h-2.5v7.8h2.5V8" stroke="#1b74d0" stroke-width="1.4" fill="none"/><path d="M650.6 5.75h4.2" stroke="#1b74d0" stroke-width="1.9"/><path d="M654.3 3.2l3.3 2.55l-3.3 2.55z" fill="#1b74d0"/>
<rect x="610.3" y="634" width="32" height="31.6" rx="2.5" fill="#c9b8aa" opacity="0.6"/><rect x="609.2" y="632.9" width="32" height="31.7" rx="2.5" fill="#ff7f10"/>
<circle cx="625.2" cy="648.7" r="12.4" fill="#fff"/><ellipse cx="628.4" cy="646.3" rx="7.6" ry="6.5" fill="#ff7f10"/>
<path d="M630.5 643L632.9 637.3L638.5 635.5L637.4 642.3Z" fill="#ff7f10"/>
<path d="M613.4 653C614.2 648 617 644 621.4 641.3" stroke="#ff7f10" stroke-width="0.6" fill="none"/><path d="M612.6 647.5L616.5 640.5" stroke="#ff7f10" stroke-width="1" stroke-dasharray="0.6 0.6" fill="none" opacity="0.7"/>
<text x="647.9" y="653.6" class="b" style="font-size:20px;fill:#e9d3c4;opacity:.55;font-family:'Liberation Sans','Noto Sans CJK SC',sans-serif" textLength="65.5" lengthAdjust="spacingAndGlyphs">汇金网</text>
<text x="647.3" y="653" class="b" style="font-size:20px;fill:#f2ddd0;font-family:'Liberation Sans','Noto Sans CJK SC',sans-serif" textLength="65.5" lengthAdjust="spacingAndGlyphs">汇金网</text>
<text x="647.8" y="664.4" class="b" style="font-size:7.5px;fill:#f2ddd0" textLength="64.5" lengthAdjust="spacingAndGlyphs">www.gold678.com</text>
</svg></body></html>
